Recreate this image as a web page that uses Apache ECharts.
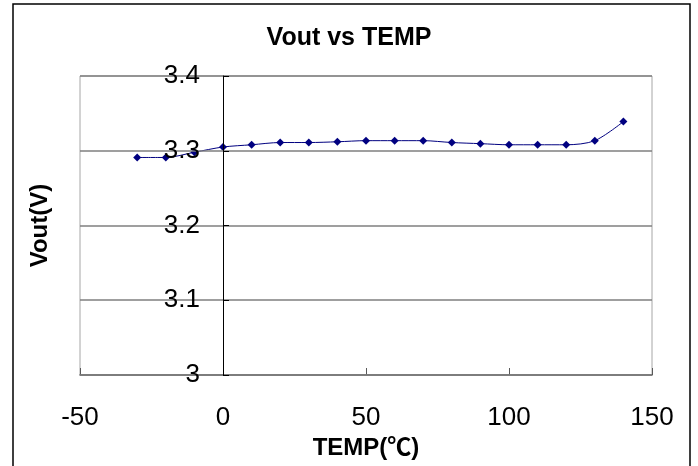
<!DOCTYPE html>
<html>
<head>
<meta charset="utf-8">
<script src="https://cdn.jsdelivr.net/npm/echarts@6/dist/echarts.min.js"></script>
<style>html,body{margin:0;padding:0;background:#fff}#c{width:698px;height:466px}</style>
</head>
<body>
<div id="c"></div>
<script>
var temps = [-30, -20, -10, 0, 10, 20, 30, 40, 50, 60, 70, 80, 90, 100, 110, 120, 130, 140];
var vout = [3.291, 3.291, 3.298, 3.305, 3.308, 3.311, 3.311, 3.312, 3.3135, 3.3135, 3.3135, 3.311, 3.3095, 3.308, 3.308, 3.308, 3.3135, 3.339];
var xTicks = [-50, 0, 50, 100, 150];
var yTicks = [3, 3.1, 3.2, 3.3, 3.4];

var FONT = '"Liberation Sans", Arial, "Noto Sans CJK SC", sans-serif';
var GRID_LEFT = 80, GRID_RIGHT = 46;
var plotW = 698 - GRID_LEFT - GRID_RIGHT;
// y axis crosses the x axis at 0 (Excel style): shift axis by the pixel position of x=0
var yShift = plotW * (0 - xTicks[0]) / (xTicks[xTicks.length - 1] - xTicks[0]);

var chart = echarts.init(document.getElementById('c'));
chart.setOption({
  animation: false,
  backgroundColor: '#fff',
  title: {
    text: 'Vout vs TEMP', left: 'center', top: 21,
    textStyle: {fontFamily: FONT, fontSize: 25, fontWeight: 'bold', color: '#000'}
  },
  graphic: [{
    type: 'rect', shape: {x: 13, y: 4, width: 677, height: 480},
    style: {fill: 'none', stroke: '#000', lineWidth: 1.5}, z: 10
  }],
  grid: {left: GRID_LEFT, right: GRID_RIGHT, top: 76, bottom: 91, containLabel: false, outerBoundsMode: 'none',
    show: true, borderColor: '#a6a6a6', borderWidth: 1},
  xAxis: {
    type: 'value', min: xTicks[0], max: xTicks[xTicks.length - 1], interval: 50,
    name: 'TEMP(℃)', nameLocation: 'middle', nameGap: 57,
    nameTextStyle: {fontFamily: FONT, fontSize: 24, fontWeight: 'bold', color: '#000'},
    axisLine: {onZero: false, lineStyle: {color: '#595959', width: 1.5}},
    axisTick: {inside: true, length: 7, lineStyle: {color: '#595959', width: 1}},
    axisLabel: {margin: 30, fontFamily: FONT, fontSize: 26, color: '#000'},
    splitLine: {show: false}
  },
  yAxis: {
    type: 'value', min: yTicks[0], max: yTicks[yTicks.length - 1], interval: 0.1,
    offset: -yShift,
    name: 'Vout(V)', nameLocation: 'middle', nameGap: 171, nameRotate: 90,
    nameTextStyle: {fontFamily: FONT, fontSize: 24, fontWeight: 'bold', color: '#000'},
    z: 5,
    axisLine: {onZero: false, lineStyle: {color: '#000', width: 1}},
    axisTick: {inside: true, length: 6, lineStyle: {color: '#000', width: 1}},
    axisLabel: {margin: 23, fontFamily: FONT, fontSize: 26, color: '#000',
      formatter: function (v) { return String(Math.round(v * 10) / 10); }},
    splitLine: {show: true, lineStyle: {color: '#7f7f7f', width: 1.5}}
  },
  series: [{
    type: 'line',
    data: temps.map(function (t, i) { return [t, vout[i]]; }),
    smooth: 0.3,
    symbol: 'diamond', symbolSize: 8,
    itemStyle: {color: '#000080'},
    lineStyle: {color: '#000080', width: 1},
    z: 2
  }]
});
</script>
</body>
</html>
